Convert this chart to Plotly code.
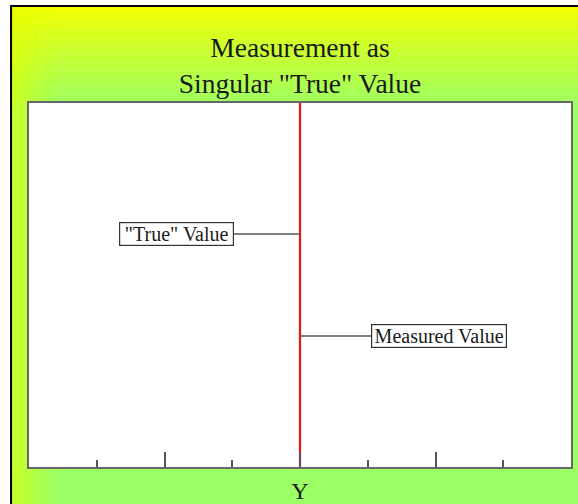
import plotly.graph_objects as go

# ---- data ----
line_x = [0, 0]
line_y = [0, 10]
label_names = ['"True" Value', 'Measured Value']
label_values = [6.4, 3.6]
label_offsets = [-124, 139]  # pixel offset of label box from the line
label_widths = [111, 132]
x_range = [-4, 4]
y_range = [0, 10]

W, H = 578, 504
ML, MR, MT, MB = 29, 5, 103, 37
PW, PH = W - ML - MR, H - MT - MB


def px2x(px):
    return (px - ML) / PW


def py2y(py):
    return (H - MB - py) / PH


def lerp(c1, c2, t):
    return tuple(round(a + (b - a) * t) for a, b in zip(c1, c2))


shapes = []
yellow = (246, 255, 0)
green = (156, 255, 100)
shapes.append(dict(type="rect", xref="paper", yref="paper", layer="below",
                   x0=px2x(12), x1=px2x(W + 2), y0=py2y(7), y1=py2y(H + 2),
                   fillcolor="rgb(%d,%d,%d)" % green, line_width=0))
step = 2
for py in range(7, 112, step):
    t = min(1.0, (py - 7) / 100)
    t = t ** 0.85
    c = lerp(yellow, green, t)
    shapes.append(dict(type="rect", xref="paper", yref="paper", layer="below",
                       x0=px2x(12), x1=px2x(W + 2), y0=py2y(py), y1=py2y(py + step + 0.5),
                       fillcolor="rgb(%d,%d,%d)" % c, line_width=0))
for px in range(12, 60, 2):
    a = 0.55 * (1 - (px - 12) / 48) ** 1.3
    shapes.append(dict(type="rect", xref="paper", yref="paper", layer="below",
                       x0=px2x(px), x1=px2x(px + 2.5), y0=py2y(7), y1=py2y(H + 2),
                       fillcolor="rgba(225,255,0,%.3f)" % a, line_width=0))
shapes.append(dict(type="rect", xref="paper", yref="paper", layer="below",
                   x0=0, x1=1, y0=0, y1=1, fillcolor="white", line_width=0))
shapes.append(dict(type="rect", xref="paper", yref="paper", layer="above",
                   x0=px2x(10), x1=px2x(12), y0=py2y(5), y1=py2y(H + 2),
                   fillcolor="black", line_width=0))
shapes.append(dict(type="rect", xref="paper", yref="paper", layer="above",
                   x0=px2x(10), x1=px2x(W + 2), y0=py2y(5), y1=py2y(7),
                   fillcolor="black", line_width=0))

fig = go.Figure()
fig.add_trace(go.Scatter(x=line_x, y=line_y, mode="lines",
                         line=dict(color="#e8141c", width=2.2),
                         hoverinfo="skip", showlegend=False))

annotations = []
for name, val, off, wd in zip(label_names, label_values, label_offsets, label_widths):
    annotations.append(dict(
        x=line_x[0], y=val, xref="x", yref="y", text=name,
        showarrow=True, arrowhead=0, arrowwidth=1.6, arrowcolor="#555555",
        ax=off, ay=0, standoff=0, width=wd, height=20,
        font=dict(family="Liberation Serif", size=20, color="#1a1a1a"),
        bgcolor="white", bordercolor="#333333", borderwidth=1.2, borderpad=1,
    ))

fig.update_layout(
    width=W, height=H,
    margin=dict(l=ML, r=MR, t=MT, b=MB),
    paper_bgcolor="white", plot_bgcolor="white",
    shapes=shapes, annotations=annotations,
    title=dict(text='Measurement as<br>Singular "True" Value',
               x=0.5, xref="paper", xanchor="center",
               y=1 - 57 / H, yref="container", yanchor="top",
               font=dict(family="Liberation Serif", size=27.5, color="#1a1a1a")),
    showlegend=False,
    hovermode=False,
)
fig.update_xaxes(range=x_range, showline=True, mirror=True, linecolor="#666666",
                 linewidth=1.5, ticks="inside", ticklen=15, tickwidth=1.6,
                 tickcolor="#555555", tick0=0, dtick=2, showticklabels=False,
                 showgrid=False, zeroline=False,
                 minor=dict(ticks="inside", ticklen=7, tickwidth=1.6,
                            tickcolor="#555555", dtick=1, showgrid=False),
                 title=dict(text="Y", standoff=14,
                            font=dict(family="Liberation Serif", size=24, color="#1a1a1a")))
fig.update_yaxes(range=y_range, showline=True, mirror=True, linecolor="#666666",
                 linewidth=1.5, ticks="", showticklabels=False, showgrid=False,
                 zeroline=False)

fig.write_html("out.html", config={"displayModeBar": False},
               post_script="document.body.style.margin='0px';document.body.style.overflow='hidden';")
